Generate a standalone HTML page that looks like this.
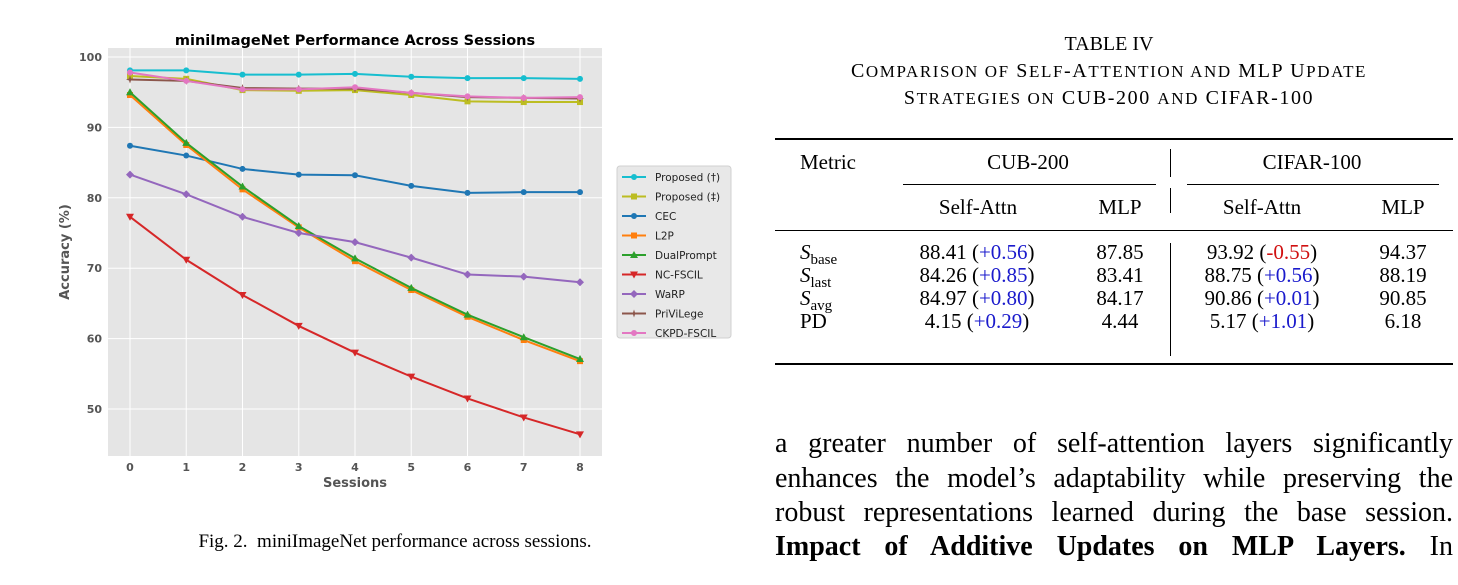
<!DOCTYPE html>
<html><head><meta charset="utf-8"><style>
body{margin:0;width:1458px;height:585px;background:#fff;position:relative;overflow:hidden;font-family:"Liberation Serif",serif;color:#000}
.a{position:absolute;white-space:nowrap}
.c{transform:translateX(-50%)}
.sc{font-size:17px}
.cap{letter-spacing:1.6px}
.t{font-size:21px}
.b{color:#1a1acc}.r{color:#d01010}
.p{position:absolute;left:775px;width:678px;font-size:28px;text-align:justify;text-align-last:justify;line-height:34px;white-space:nowrap}
</style></head><body>
<svg width="760" height="585" style="position:absolute;left:0;top:0" id="chart" font-family="DejaVu Sans, sans-serif"></svg>
<div class="a c" style="left:395px;top:531px;font-size:19px">Fig. 2.&nbsp; miniImageNet performance across sessions.</div>

<div class="a c" style="left:1109px;top:33px;font-size:20px">TABLE IV</div>
<div class="a c cap" style="left:1109px;top:60px;font-size:20px">C<span class="sc">OMPARISON OF</span> S<span class="sc">ELF</span>-A<span class="sc">TTENTION AND</span> MLP U<span class="sc">PDATE</span></div>
<div class="a c cap" style="left:1109px;top:87px;font-size:20px">S<span class="sc">TRATEGIES ON</span> CUB-200 <span class="sc">AND</span> CIFAR-100</div>

<div>
<div class="a" style="left:775px;top:138px;width:678px;height:2px;background:#000"></div>
<div class="a" style="left:775px;top:230px;width:678px;height:1px;background:#000"></div>
<div class="a" style="left:775px;top:363px;width:678px;height:2px;background:#000"></div>
<div class="a" style="left:903px;top:184px;width:253px;height:1px;background:#000"></div>
<div class="a" style="left:1187px;top:184px;width:252px;height:1px;background:#000"></div>
<div class="a" style="left:1170px;top:149px;width:1px;height:28px;background:#000"></div>
<div class="a" style="left:1170px;top:188px;width:1px;height:25px;background:#000"></div>
<div class="a" style="left:1170px;top:243px;width:1px;height:113px;background:#000"></div>
<div class="a t" style="left:800px;top:150px">Metric</div>
<div class="a t c" style="left:1028px;top:150px">CUB-200</div>
<div class="a t c" style="left:1312px;top:150px">CIFAR-100</div>
<div class="a t c" style="left:978px;top:195px">Self-Attn</div>
<div class="a t c" style="left:1120px;top:195px">MLP</div>
<div class="a t c" style="left:1262px;top:195px">Self-Attn</div>
<div class="a t c" style="left:1403px;top:195px">MLP</div>

<div class="a t" style="left:800px;top:240px"><i>S</i><sub style="font-size:15px">base</sub></div>
<div class="a t c" style="left:977px;top:240px">88.41 (<span class="b">+0.56</span>)</div>
<div class="a t c" style="left:1120px;top:240px">87.85</div>
<div class="a t c" style="left:1262px;top:240px">93.92 (<span class="r">-0.55</span>)</div>
<div class="a t c" style="left:1403px;top:240px">94.37</div>

<div class="a t" style="left:800px;top:263px"><i>S</i><sub style="font-size:15px">last</sub></div>
<div class="a t c" style="left:977px;top:263px">84.26 (<span class="b">+0.85</span>)</div>
<div class="a t c" style="left:1120px;top:263px">83.41</div>
<div class="a t c" style="left:1262px;top:263px">88.75 (<span class="b">+0.56</span>)</div>
<div class="a t c" style="left:1403px;top:263px">88.19</div>

<div class="a t" style="left:800px;top:286px"><i>S</i><sub style="font-size:15px">avg</sub></div>
<div class="a t c" style="left:977px;top:286px">84.97 (<span class="b">+0.80</span>)</div>
<div class="a t c" style="left:1120px;top:286px">84.17</div>
<div class="a t c" style="left:1262px;top:286px">90.86 (<span class="b">+0.01</span>)</div>
<div class="a t c" style="left:1403px;top:286px">90.85</div>

<div class="a t" style="left:800px;top:309px">PD</div>
<div class="a t c" style="left:977px;top:309px">4.15 (<span class="b">+0.29</span>)</div>
<div class="a t c" style="left:1120px;top:309px">4.44</div>
<div class="a t c" style="left:1262px;top:309px">5.17 (<span class="b">+1.01</span>)</div>
<div class="a t c" style="left:1403px;top:309px">6.18</div>
</div>

<div class="p" style="top:427px">a greater number of self-attention layers significantly</div>
<div class="p" style="top:462px">enhances the model’s adaptability while preserving the</div>
<div class="p" style="top:496px">robust representations learned during the base session.</div>
<div class="p" style="top:530px"><b>Impact of Additive Updates on MLP Layers.</b> In</div>

<script>
const sessions=[0,1,2,3,4,5,6,7,8];
const yTicks=[50,60,70,80,90,100];
const seriesNames=["Proposed (†)","Proposed (‡)","CEC","L2P","DualPrompt","NC-FSCIL","WaRP","PriViLege","CKPD-FSCIL"];
const proposedDagger=[98.1,98.1,97.5,97.5,97.6,97.2,97.0,97.0,96.9];
const proposedDDagger=[97.3,96.9,95.3,95.2,95.3,94.6,93.7,93.6,93.6];
const cec=[87.4,86.0,84.1,83.3,83.2,81.7,80.7,80.8,80.8];
const l2p=[94.6,87.5,81.2,75.8,71.0,66.9,63.1,59.8,56.8];
const dualPrompt=[95.0,87.8,81.6,76.0,71.4,67.2,63.4,60.2,57.1];
const ncFscil=[77.3,71.2,66.2,61.8,58.0,54.6,51.5,48.8,46.4];
const warp=[83.3,80.5,77.3,75.0,73.7,71.5,69.1,68.8,68.0];
const privilege=[96.8,96.6,95.6,95.5,95.5,94.9,94.3,94.2,94.1];
const ckpd=[97.8,96.6,95.4,95.4,95.7,94.9,94.4,94.2,94.3];
const seriesData=[proposedDagger,proposedDDagger,cec,l2p,dualPrompt,ncFscil,warp,privilege,ckpd];
const colors=["#17becf","#bcbd22","#1f77b4","#ff7f0e","#2ca02c","#d62728","#9467bd","#8c564b","#e377c2"];
const markers=["o","s","o","s","^","v","D","*","o"];
const svg=document.getElementById('chart');
const NS="http://www.w3.org/2000/svg";
const L=108,R=602,T=48,B=456;
const xS=v=>130+v*(580-130)/8;
const yS=v=>57+(100-v)*(409-57)/50;
function mk(tag,at,parent){const e=document.createElementNS(NS,tag);for(const k in at)e.setAttribute(k,at[k]);(parent||svg).appendChild(e);return e;}
const bg=mk('rect',{x:L,y:T,width:R-L,height:B-T,fill:'#e5e5e5'});


yTicks.forEach(v=>{
 const g=mk('line',{x1:L,x2:R,y1:yS(v),y2:yS(v),stroke:'#fff','stroke-width':1});
 
 
 const t=mk('text',{x:L-6,y:yS(v)+4,'text-anchor':'end','font-size':11,fill:'#555','font-weight':'bold'});
 t.textContent=v;
 
 
});
sessions.forEach(v=>{
 const g=mk('line',{x1:xS(v),x2:xS(v),y1:T,y2:B,stroke:'#fff','stroke-width':1});
 
 
 const t=mk('text',{x:xS(v),y:B+15,'text-anchor':'middle','font-size':11,fill:'#555','font-weight':'bold'});
 t.textContent=v;
 
 
});
function marker(type,x,y,c,s,parent){
 let e;
 if(type==='o')e=mk('circle',{cx:x,cy:y,r:s,fill:c},parent);
 else if(type==='s')e=mk('rect',{x:x-s,y:y-s,width:2*s,height:2*s,fill:c},parent);
 else if(type==='^')e=mk('polygon',{points:`${x},${y-s-1} ${x-s-1},${y+s} ${x+s+1},${y+s}`,fill:c},parent);
 else if(type==='v')e=mk('polygon',{points:`${x},${y+s+1} ${x-s-1},${y-s} ${x+s+1},${y-s}`,fill:c},parent);
 else if(type==='D')e=mk('polygon',{points:`${x},${y-s-1} ${x+s+1},${y} ${x},${y+s+1} ${x-s-1},${y}`,fill:c},parent);
 else e=mk('polygon',{points:`${x},${y-s-1} ${x+1},${y-1} ${x+s+1},${y} ${x+1},${y+1} ${x},${y+s+1} ${x-1},${y+1} ${x-s-1},${y} ${x-1},${y-1}`,fill:c},parent);
 return e;
}
seriesData.forEach((d,i)=>{
 const g=mk('g',{});
 
 
 mk('polyline',{points:d.map((v,j)=>xS(sessions[j])+','+yS(v)).join(' '),fill:'none',stroke:colors[i],'stroke-width':2},g);
 d.forEach((v,j)=>{const m=marker(markers[i],xS(sessions[j]),yS(v),colors[i],3,g);
  
  });
});
const title=mk('text',{x:355,y:45,'text-anchor':'middle','font-size':14.5,'font-weight':'bold',fill:'#000'});
title.textContent='miniImageNet Performance Across Sessions';


const xl=mk('text',{x:355,y:487,'text-anchor':'middle','font-size':13,'font-weight':'bold',fill:'#555'});
xl.textContent='Sessions';


const yl=mk('text',{x:69,y:252,'text-anchor':'middle','font-size':13,'font-weight':'bold',fill:'#555',transform:'rotate(-90 69 252)'});
yl.textContent='Accuracy (%)';


const lg=mk('g',{});


mk('rect',{x:617,y:166,width:114,height:172,rx:3,fill:'#e8e8e8',stroke:'#d0d0d0'},lg);
seriesNames.forEach((n,i)=>{
 const y=177+i*19.5;
 const e=mk('g',{},lg);
 
 
 mk('line',{x1:622,x2:646,y1:y,y2:y,stroke:colors[i],'stroke-width':2},e);
 marker(markers[i],634,y,colors[i],3,e);
 const t=mk('text',{x:655,y:y+4,'font-size':10.5,fill:'#222'},e);
 t.textContent=n;
});
</script>
</body></html>
